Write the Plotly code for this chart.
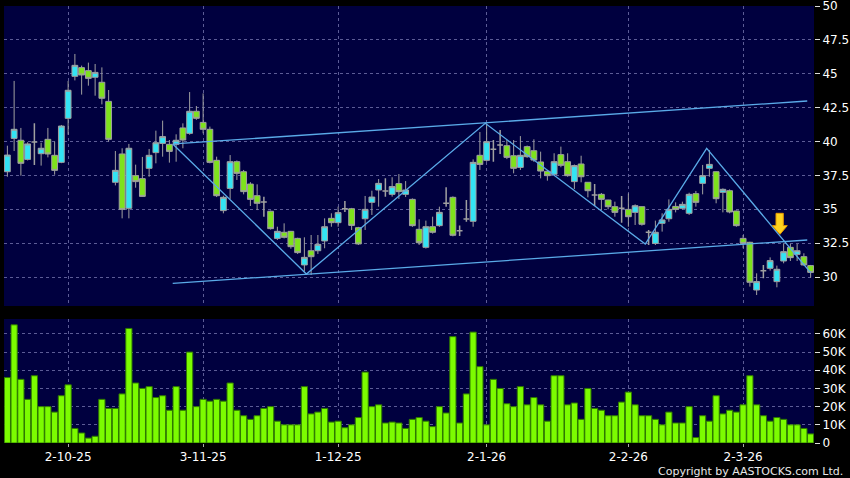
import plotly.graph_objects as go

# ---------------- data ----------------
opens = [37.77, 40.23, 40.09, 38.68, 39.96, 39.1, 40.16, 38.98, 38.46, 41.71,
         44.81, 45.45, 45.23, 44.74, 44.37, 42.96, 36.99, 39.08, 35.07, 37.48,
         37.26, 38.02, 39.18, 39.86, 39.79, 39.79, 41.0, 40.6, 42.23, 41.41,
         40.9, 38.61, 34.9, 36.54, 38.51, 37.77, 36.86, 36.0, 35.53, 34.85,
         32.85, 33.3, 33.37, 32.85, 30.89, 31.94, 31.94, 32.66, 34.33, 34.01,
         35.04, 35.04, 33.64, 34.3, 35.51, 36.42, 36.35, 36.1, 36.89, 36.1,
         35.73, 33.52, 32.19, 33.71, 33.79, 35.44, 35.88, 33.42, 34.28, 34.11,
         38.98, 38.61, 39.42, 39.74, 39.69, 38.95, 38.09, 39.62, 39.32, 38.49,
         37.8, 37.58, 39.03, 38.51, 37.04, 38.34, 36.99, 36.05, 36.1, 35.68,
         35.19, 35.07, 34.99, 34.77, 35.19, 33.3, 32.48, 33.96, 34.3, 35.21,
         35.07, 34.7, 36.15, 36.91, 38.02, 37.77, 36.25, 36.37, 34.87, 32.85,
         32.56, 29.04, 30.47, 30.64, 29.66, 31.18, 32.19, 31.67, 31.5, 30.84]
highs = [39.69, 44.47, 41.0, 39.95, 41.34, 39.91, 41.0, 39.99, 41.22, 44.47,
         46.46, 45.6, 45.82, 45.72, 45.47, 43.8, 39.3, 39.5, 39.82, 38.29,
         38.86, 39.45, 40.8, 41.54, 40.11, 40.53, 41.34, 43.65, 42.62, 43.55,
         41.1, 38.88, 36.0, 39.0, 38.6, 37.9, 37.0, 36.84, 35.93, 34.9,
         33.71, 33.96, 33.4, 32.9, 32.93, 33.1, 33.1, 34.33, 34.7, 35.19,
         35.61, 35.1, 33.7, 35.98, 36.37, 37.23, 37.28, 37.36, 37.6, 37.08,
         35.8, 34.26, 34.16, 34.45, 35.19, 36.62, 35.95, 33.81, 35.68, 38.68,
         40.7, 41.34, 40.11, 40.85, 40.11, 40.11, 40.4, 39.7, 40.16, 39.25,
         37.9, 39.13, 39.62, 39.13, 38.3, 38.95, 37.0, 36.86, 36.2, 35.7,
         35.56, 35.98, 36.17, 35.36, 35.2, 33.47, 34.16, 34.7, 35.73, 35.51,
         35.56, 36.22, 36.35, 38.27, 39.37, 37.8, 36.54, 36.47, 34.9, 33.1,
         32.6, 30.27, 30.89, 31.45, 30.84, 32.49, 32.44, 32.44, 31.75, 30.89]
lows = [37.4, 39.3, 37.48, 38.6, 38.27, 38.22, 38.83, 37.55, 38.4, 40.5,
        44.51, 43.46, 44.12, 43.38, 42.74, 39.99, 36.76, 34.33, 34.33, 36.59,
        35.93, 37.4, 38.39, 38.88, 38.44, 38.51, 39.5, 40.5, 41.6, 40.6,
        38.39, 35.9, 34.7, 35.76, 37.16, 36.1, 35.24, 34.94, 34.45, 33.5,
        32.73, 32.85, 32.09, 31.7, 30.39, 30.15, 31.7, 32.12, 33.71, 33.71,
        34.8, 33.47, 32.36, 33.47, 34.58, 35.19, 35.93, 35.93, 35.76, 35.9,
        33.7, 32.36, 32.1, 33.2, 33.7, 35.19, 33.0, 33.03, 34.08, 33.71,
        37.9, 38.51, 38.51, 39.08, 38.7, 37.65, 37.9, 38.8, 38.5, 37.28,
        37.11, 37.5, 38.1, 37.4, 36.49, 36.99, 35.88, 35.24, 34.94, 35.0,
        34.45, 34.01, 33.71, 33.84, 33.79, 32.36, 32.36, 33.35, 34.08, 34.77,
        34.99, 34.58, 35.19, 36.1, 37.4, 35.44, 34.77, 34.7, 33.71, 32.12,
        29.29, 28.67, 29.9, 30.47, 29.24, 31.01, 31.18, 31.18, 30.84, 29.95]
closes = [39.0, 40.9, 38.39, 39.82, 39.96, 39.5, 39.08, 37.87, 41.14, 43.78,
          45.62, 44.91, 44.66, 45.10, 43.19, 40.16, 37.87, 34.99, 39.5, 37.04,
          35.95, 38.98, 39.91, 40.36, 39.27, 40.09, 40.11, 42.23, 41.71, 40.9,
          38.46, 36.0, 35.88, 38.51, 37.65, 36.3, 35.73, 35.44, 35.53, 33.57,
          33.37, 32.93, 32.24, 31.8, 31.45, 31.5, 32.41, 33.71, 34.01, 34.75,
          35.04, 33.81, 32.44, 34.99, 35.9, 36.91, 36.35, 36.67, 36.3, 36.42,
          33.79, 32.53, 33.71, 33.3, 34.77, 35.44, 33.08, 33.42, 34.28, 38.46,
          38.31, 39.99, 39.42, 39.74, 38.83, 38.02, 38.98, 38.88, 38.63, 37.82,
          37.48, 38.51, 38.24, 37.48, 38.22, 37.4, 36.37, 36.05, 35.73, 35.19,
          34.77, 35.07, 34.45, 35.26, 33.89, 33.3, 33.3, 34.21, 34.99, 34.99,
          35.36, 36.1, 35.51, 37.48, 38.31, 35.78, 36.47, 34.8, 33.79, 32.48,
          29.61, 29.66, 30.47, 31.21, 30.57, 31.87, 31.43, 31.94, 30.89, 30.34]
volume_k = [36, 65, 35, 24, 37, 20, 20, 17, 26, 32,
            8, 5.5, 2.7, 3.7, 24, 19, 19, 27, 63, 33,
            30, 31, 25, 26, 18, 31, 18, 50, 20, 24,
            23, 24, 23, 33, 18, 15, 13, 15, 19, 20,
            12, 10, 10, 10, 31, 16, 17, 19, 11.5, 12,
            8.4, 10, 14, 39, 20, 21, 11, 11.5, 11, 8,
            13, 14, 12, 9, 20, 16.5, 58.5, 11, 27, 61,
            42, 10, 35, 30, 21.6, 20, 31, 21, 25, 21,
            12, 37, 37, 21, 22, 13, 30, 19, 18, 15,
            15, 22.5, 28, 21, 15, 15, 13, 10, 17, 11,
            11, 20, 3, 15, 12, 26, 16, 18, 17, 21,
            37, 21, 15, 12, 14, 13, 10, 10, 8, 5]

date_tick_index = [9, 29, 49, 71, 92, 109]
date_tick_labels = ["2-10-25", "3-11-25", "1-12-25", "2-1-26", "2-2-26", "2-3-26"]

price_ticks = [30, 32.5, 35, 37.5, 40, 42.5, 45, 47.5, 50]
price_tick_labels = ["30", "32.5", "35", "37.5", "40", "42.5", "45", "47.5", "50"]
vol_ticks = [0, 10000, 20000, 30000, 40000, 50000, 60000]
vol_tick_labels = ["0", "10K", "20K", "30K", "40K", "50K", "60K"]

# user-drawn trend lines (bar index, price)
zigzag_x = [24.5, 44.3, 70.8, 94.5, 103.6, 119.0]
zigzag_y = [39.82, 30.22, 41.34, 32.43, 39.5, 30.32]
upper_x = [24.6, 118.5]
upper_y = [39.82, 42.99]
lower_x = [24.5, 118.5]
lower_y = [29.53, 32.73]

# signal arrow outline (bar index, price)
arrow_x = [113.87, 114.95, 114.95, 115.54, 114.46, 113.32, 113.87, 113.87]
arrow_y = [34.70, 34.70, 33.79, 33.79, 33.15, 33.79, 33.79, 34.70]

# ---------------- figure ----------------
n = len(opens)
idx = list(range(n))
volumes = [v * 1000 for v in volume_k]
normal = [i for i in idx if opens[i] != closes[i]]
doji = [i for i in idx if opens[i] == closes[i]]

BG = "#00003f"
GRID = "#5c5c96"
WICK = "#a0a0a0"
TREND = "#5aaae8"
FONT = "DejaVu Sans"

fig = go.Figure()

fig.add_trace(go.Candlestick(
    x=normal,
    open=[opens[i] for i in normal], high=[highs[i] for i in normal],
    low=[lows[i] for i in normal], close=[closes[i] for i in normal],
    increasing=dict(line=dict(color=WICK, width=1), fillcolor="#33e4f4"),
    decreasing=dict(line=dict(color=WICK, width=1), fillcolor="#7ee21c"),
    whiskerwidth=0, xaxis="x", yaxis="y", showlegend=False, hoverinfo="skip"))

fig.add_trace(go.Candlestick(
    x=doji,
    open=[opens[i] for i in doji], high=[highs[i] for i in doji],
    low=[lows[i] for i in doji], close=[closes[i] for i in doji],
    increasing=dict(line=dict(color=WICK, width=1.5), fillcolor=WICK),
    decreasing=dict(line=dict(color=WICK, width=1.5), fillcolor=WICK),
    whiskerwidth=0, xaxis="x", yaxis="y", showlegend=False, hoverinfo="skip"))

for xs, ys in [(upper_x, upper_y), (lower_x, lower_y), (zigzag_x, zigzag_y)]:
    fig.add_trace(go.Scatter(x=xs, y=ys, mode="lines",
                             line=dict(color=TREND, width=1.3),
                             xaxis="x", yaxis="y", showlegend=False, hoverinfo="skip"))

fig.add_trace(go.Scatter(x=arrow_x, y=arrow_y, mode="lines", fill="toself",
                         fillcolor="#ffd21e", line=dict(color="#e89a00", width=1),
                         xaxis="x", yaxis="y", showlegend=False, hoverinfo="skip"))

fig.add_trace(go.Bar(x=idx, y=volumes,
                     marker=dict(color="#7cfc00", line=dict(color="#2f7a00", width=1)),
                     xaxis="x2", yaxis="y2", showlegend=False, hoverinfo="skip"))

xdom = [4 / 850, 814 / 850]
common_x = dict(range=[-0.5, n - 0.5], domain=xdom, tickmode="array",
                tickvals=date_tick_index, showgrid=True, gridcolor=GRID,
                griddash="3px,3px", gridwidth=1, zeroline=False, showline=False,
                fixedrange=True, automargin=False)
common_y = dict(side="right", tickmode="array", ticks="outside", ticklen=5,
                tickcolor="#dddddd", showgrid=True, gridcolor=GRID,
                griddash="3px,3px", zeroline=False, showline=False,
                tickfont=dict(family=FONT, size=12, color="#ffffff"),
                fixedrange=True, automargin=False, ticklabeloverflow="allow")

fig.update_layout(
    width=850, height=478,
    margin=dict(l=0, r=0, t=0, b=0, pad=0, autoexpand=False),
    paper_bgcolor="#000000", plot_bgcolor=BG,
    font=dict(family=FONT, size=12, color="#ffffff"),
    bargap=0.08, boxgap=0.14, boxgroupgap=0, boxmode="overlay",
    xaxis=dict(**common_x, anchor="y", showticklabels=False, ticks="",
               rangeslider=dict(visible=False)),
    xaxis2=dict(**common_x, anchor="y2", ticktext=date_tick_labels,
                showticklabels=True, ticks="outside", ticklen=3, tickcolor="#aaaaaa",
                ticklabeloverflow="allow",
                tickfont=dict(family=FONT, size=12, color="#ffffff")),
    yaxis=dict(**common_y, domain=[1 - 306 / 478, 1 - 6 / 478], range=[27.86, 50],
               tickvals=price_ticks, ticktext=price_tick_labels),
    yaxis2=dict(**common_y, domain=[1 - 443 / 478, 1 - 319 / 478], range=[0, 68200],
                tickvals=vol_ticks, ticktext=vol_tick_labels),
    annotations=[dict(text="Copyright by AASTOCKS.com Ltd.", xref="paper", yref="paper",
                      x=845 / 850, y=1 - 471 / 478, xanchor="right", yanchor="middle",
                      showarrow=False, font=dict(family=FONT, size=11, color="#e8e8e8"))],
)

fig.write_html("out.html", config={"displayModeBar": False},
               post_script="document.body.style.margin='0';"
                           "document.body.style.overflow='hidden';"
                           "document.body.style.background='#000';")
